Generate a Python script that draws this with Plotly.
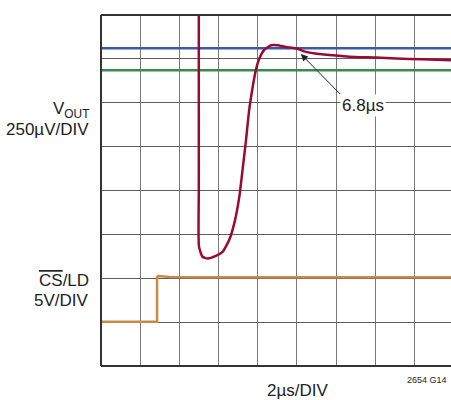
import plotly.graph_objects as go

# time in divisions (2 µs/DIV), level in divisions from bottom
vout_t = [2.495, 2.495, 2.50, 2.59, 2.72, 2.93, 3.10, 3.27, 3.40, 3.53, 3.61, 3.70, 3.78, 3.87,
          3.95, 4.04, 4.17, 4.34, 4.51, 4.72, 4.97, 5.23, 5.57, 5.82, 6.33, 7.02, 7.53, 8.20, 8.93]
vout_v = [8.6, 4.0, 2.72, 2.49, 2.45, 2.51, 2.60, 2.87, 3.25, 3.86, 4.46, 5.15, 5.83, 6.36,
          6.74, 7.01, 7.21, 7.31, 7.31, 7.27, 7.24, 7.16, 7.11, 7.09, 7.05, 7.03, 7.01, 6.99, 6.97]

cs_t = [0.0, 1.43, 1.43, 1.46, 1.75, 2.3, 8.93]
cs_v = [1.01, 1.01, 2.03, 2.05, 2.03, 2.02, 2.02]

upper_band = 7.24
lower_band = 6.74

settle_t, settle_v = 5.10, 7.11
settle_label = "6.8µs"

FONT = "Liberation Sans, Arial, sans-serif"
XMAX = 8.93

fig = go.Figure()
fig.add_trace(go.Scatter(x=[0, XMAX], y=[upper_band, upper_band], mode="lines",
                         line=dict(color="#3a5aa8", width=2.5), hoverinfo="skip"))
fig.add_trace(go.Scatter(x=[0, XMAX], y=[lower_band, lower_band], mode="lines",
                         line=dict(color="#3a8a50", width=2.5), hoverinfo="skip"))
fig.add_trace(go.Scatter(x=cs_t, y=cs_v, mode="lines",
                         line=dict(color="#c98a45", width=2.5), hoverinfo="skip"))
fig.add_trace(go.Scatter(x=vout_t, y=vout_v, mode="lines", line_shape="spline",
                         line=dict(color="#9a0a32", width=2.5, smoothing=0.5), hoverinfo="skip"))

fig.update_layout(
    width=451, height=400,
    margin=dict(l=101, r=0, t=15, b=34),
    paper_bgcolor="white", plot_bgcolor="white",
    showlegend=False,
    xaxis=dict(range=[0, XMAX], dtick=1, showgrid=True, gridcolor="#7a7a7a", gridwidth=1,
               showticklabels=False, ticks="", zeroline=False, fixedrange=True),
    yaxis=dict(range=[0, 8], dtick=1, showgrid=True, gridcolor="#5e5e5e", gridwidth=1,
               showticklabels=False, ticks="", zeroline=False, fixedrange=True),
    shapes=[
        dict(type="line", xref="paper", yref="paper", x0=0, x1=0, y0=0, y1=1,
             line=dict(color="#333333", width=2)),
        dict(type="line", xref="paper", yref="paper", x0=0, x1=1, y0=0, y1=0,
             line=dict(color="#333333", width=2)),
        dict(type="line", xref="paper", yref="paper", x0=0, x1=1, y0=1, y1=1,
             line=dict(color="#333333", width=2)),
    ],
)

lab_font = dict(family=FONT, size=17, color="#222222")
ann = []
ann.append(dict(x=settle_t, y=settle_v, xref="x", yref="y", ax=6.10, ay=6.20,
                axref="x", ayref="y", xanchor="left", yanchor="top",
                text=settle_label, showarrow=True, arrowhead=2,
                arrowsize=1.4, arrowwidth=1, arrowcolor="#222222",
                font=lab_font, bgcolor="white", borderpad=1))
ann.append(dict(x=-0.028, y=0.729, xref="paper", yref="paper", xanchor="right", yanchor="middle",
                text="V<sub>OUT</sub>", showarrow=False, font=lab_font))
ann.append(dict(x=-0.028, y=0.674, xref="paper", yref="paper", xanchor="right", yanchor="middle",
                text="250µV/DIV", showarrow=False, font=lab_font))
ann.append(dict(x=-0.028, y=0.245, xref="paper", yref="paper", xanchor="right", yanchor="middle",
                text='<span style="text-decoration:overline">CS</span>/LD', showarrow=False, font=lab_font))
ann.append(dict(x=-0.028, y=0.1866, xref="paper", yref="paper", xanchor="right", yanchor="middle",
                text="5V/DIV", showarrow=False, font=lab_font))
ann.append(dict(x=0.561, y=-0.0698, xref="paper", yref="paper", xanchor="center", yanchor="middle",
                text="2µs/DIV", showarrow=False, font=lab_font))
ann.append(dict(x=0.995, y=-0.0413, xref="paper", yref="paper", xanchor="right", yanchor="middle",
                text="2654 G14", showarrow=False, font=dict(family=FONT, size=9, color="#222222")))
fig.update_layout(annotations=ann)

fig.write_html("out.html", config={"displayModeBar": False},
               post_script="document.body.style.margin='0';document.body.style.overflow='hidden';")
